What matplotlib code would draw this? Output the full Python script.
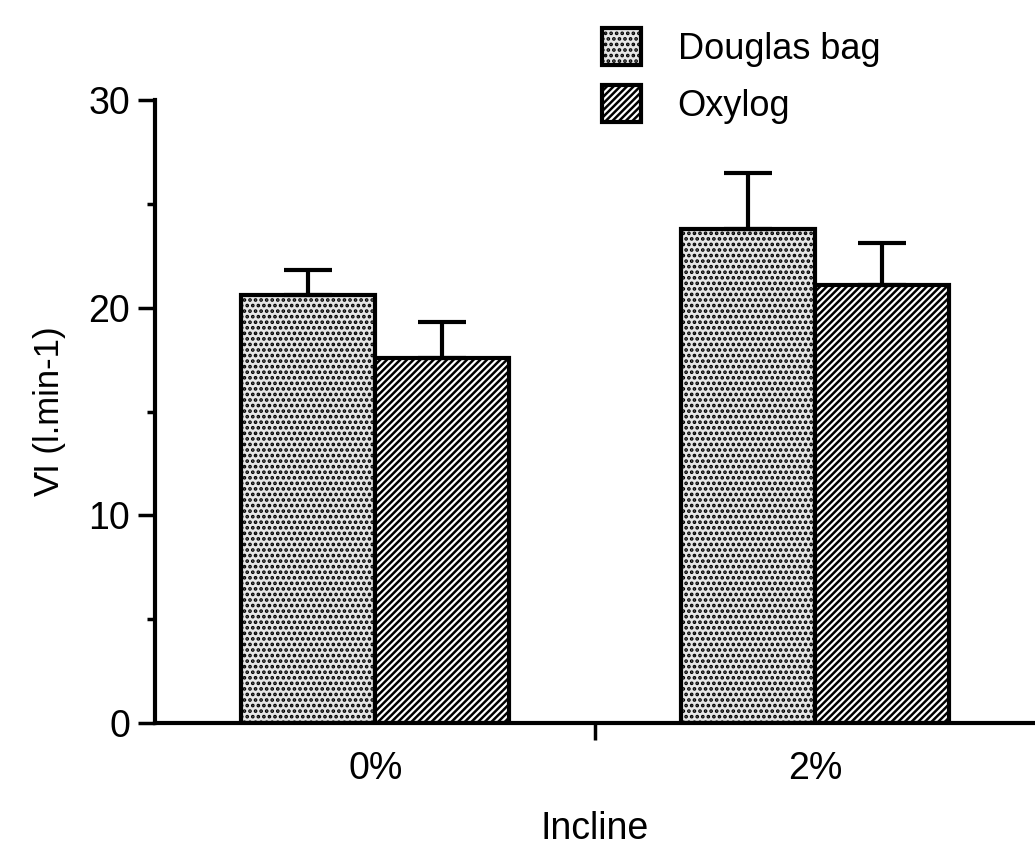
import matplotlib.pyplot as plt
import numpy as np

plt.rcParams['font.family'] = ['Liberation Sans', 'DejaVu Sans']
plt.rcParams['hatch.linewidth'] = 1.8

categories = ["0%", "2%"]
douglas = [20.6, 23.8]
douglas_err = [1.2, 2.7]
oxylog = [17.6, 21.1]
oxylog_err = [1.7, 2.0]

fig = plt.figure(figsize=(10.35, 8.61), dpi=100)
ax = fig.add_axes([0.15, 0.16, 0.85, 0.724])

x = np.arange(len(categories))
w = 0.305
b1 = ax.bar(x - w/2, douglas, w, color="#e6e6e6", edgecolor="black", linewidth=3,
            hatch="...", label="Douglas bag")
b2 = ax.bar(x + w/2, oxylog, w, color="white", edgecolor="black", linewidth=3,
            hatch="/////", label="Oxylog")
ax.errorbar(x - w/2, douglas, yerr=[[0, 0], douglas_err], fmt="none", ecolor="black",
            elinewidth=3, capsize=17, capthick=3)
ax.errorbar(x + w/2, oxylog, yerr=[[0, 0], oxylog_err], fmt="none", ecolor="black",
            elinewidth=3, capsize=17, capthick=3)

ax.set_xlim(-0.5, 1.5)
ax.set_ylim(0, 30)
ax.spines["top"].set_visible(False)
ax.spines["right"].set_visible(False)
ax.spines["left"].set_linewidth(3)
ax.spines["bottom"].set_linewidth(3)

ax.set_yticks([0, 10, 20, 30])
ax.set_yticks([5, 15, 25], minor=True)
ax.tick_params(axis="y", which="major", length=12, width=2.5, labelsize=27, pad=6)
ax.tick_params(axis="y", which="minor", length=6, width=2.5)

ax.set_xticks([0.5])
ax.set_xticklabels([""])
ax.tick_params(axis="x", which="major", length=12, width=2.5)
for xi, lab in zip(x, categories):
    ax.text(xi, -2.2, lab, ha="center", va="center", fontsize=27)
ax.text(0.5, -5.1, "Incline", ha="center", va="center", fontsize=27)

ax.set_ylabel("V\u0307I (l.min-1)", fontsize=25, labelpad=16)

leg = fig.legend(handles=[b1, b2], loc="upper left", bbox_to_anchor=(0.55, 1.005),
                 frameon=False, fontsize=26, handlelength=1.1, handleheight=1.2,
                 handletextpad=1.0, labelspacing=0.5)

fig.savefig("out.png", dpi=100)
